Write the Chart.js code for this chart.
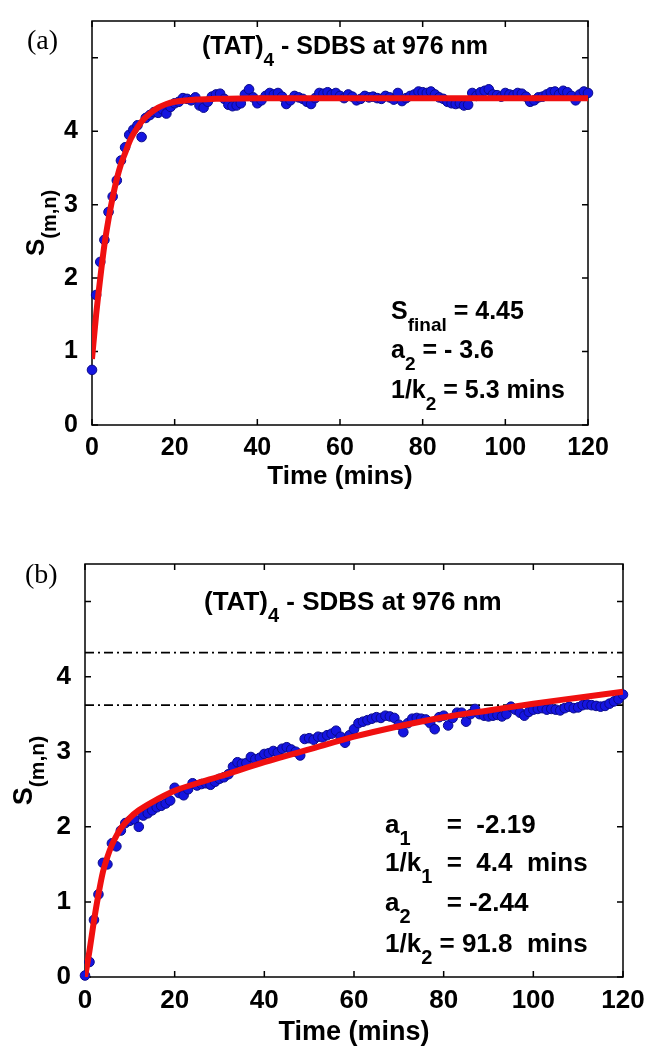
<!DOCTYPE html>
<html>
<head>
<meta charset="utf-8">
<script src="https://cdn.jsdelivr.net/npm/chart.js@4.4.0/dist/chart.umd.min.js"></script>
<style>
  body { margin: 0; background: #fff; width: 649px; height: 1046px; position: relative; overflow: hidden; }
  canvas { position: absolute; left: 0; }
  #chartA { top: 0; }
  #chartB { top: 520px; }
</style>
</head>
<body>
<canvas id="chartA" width="649" height="500"></canvas>
<canvas id="chartB" width="649" height="540"></canvas>
<script>
// sample times (minutes), same grid for both panels
const timeMins = [
  0, 1, 2, 3, 4, 5, 6, 7, 8, 9, 10, 11, 12, 13, 14, 15, 16, 17, 18, 19,
  20, 21, 22, 23, 24, 25, 26, 27, 28, 29, 30, 31, 32, 33, 34, 35, 36, 37, 38, 39,
  40, 41, 42, 43, 44, 45, 46, 47, 48, 49, 50, 51, 52, 53, 54, 55, 56, 57, 58, 59,
  60, 61, 62, 63, 64, 65, 66, 67, 68, 69, 70, 71, 72, 73, 74, 75, 76, 77, 78, 79,
  80, 81, 82, 83, 84, 85, 86, 87, 88, 89, 90, 91, 92, 93, 94, 95, 96, 97, 98, 99,
  100, 101, 102, 103, 104, 105, 106, 107, 108, 109, 110, 111, 112, 113, 114, 115, 116, 117, 118, 119, 120
];

// panel (a) measured S(m,n)
const signalA = [
  0.75, 1.77, 2.22, 2.52, 2.90, 3.11, 3.33, 3.60, 3.78, 3.95, 4.02, 4.08, 3.92, 4.18, 4.22, 4.26, 4.25, 4.30, 4.24, 4.33,
  4.38, 4.40, 4.45, 4.44, 4.42, 4.46, 4.35, 4.32, 4.40, 4.47, 4.50, 4.51, 4.44, 4.36, 4.34, 4.35, 4.38, 4.50, 4.57, 4.46,
  4.38, 4.42, 4.48, 4.52, 4.50, 4.52, 4.47, 4.37, 4.42, 4.48, 4.46, 4.44, 4.40, 4.37, 4.45, 4.52, 4.51, 4.53, 4.50, 4.52,
  4.48, 4.45, 4.50, 4.47, 4.42, 4.44, 4.48, 4.46, 4.47, 4.45, 4.44, 4.48, 4.46, 4.43, 4.52, 4.41, 4.45, 4.48, 4.50, 4.54,
  4.53, 4.52, 4.54, 4.50, 4.46, 4.44, 4.40, 4.38, 4.37, 4.38, 4.35, 4.36, 4.52, 4.48, 4.53, 4.55, 4.57, 4.50, 4.49, 4.47,
  4.52, 4.50, 4.49, 4.52, 4.51, 4.47, 4.40, 4.42, 4.46, 4.47, 4.50, 4.53, 4.54, 4.50, 4.55, 4.53, 4.48, 4.42, 4.50, 4.54, 4.52
];
// panel (a) fitted curve
const fitTimesA = [0, 1, 2, 3, 4, 5, 6, 7, 8, 9, 10, 12, 14, 16, 18, 20, 25, 30, 40, 60, 80, 100, 120];
const fitA = [0.90, 1.50, 2.00, 2.45, 2.80, 3.10, 3.35, 3.55, 3.70, 3.85, 3.96, 4.13, 4.24, 4.32, 4.37, 4.40, 4.43, 4.44, 4.45, 4.45, 4.45, 4.45, 4.45];

// panel (b) measured S(m,n)
const signalB = [
  0.02, 0.20, 0.76, 1.10, 1.52, 1.50, 1.78, 1.74, 1.95, 2.05, 2.08, 2.10, 2.00, 2.15, 2.18, 2.22, 2.26, 2.28, 2.31, 2.35,
  2.52, 2.45, 2.42, 2.50, 2.58, 2.55, 2.57, 2.58, 2.56, 2.60, 2.64, 2.66, 2.70, 2.80, 2.86, 2.84, 2.85, 2.93, 2.90, 2.92,
  2.97, 2.98, 3.01, 2.99, 3.04, 3.06, 3.03, 3.00, 2.95, 3.17, 3.18, 3.16, 3.20, 3.19, 3.22, 3.24, 3.28, 3.20, 3.12, 3.22,
  3.30, 3.38, 3.40, 3.42, 3.44, 3.46, 3.45, 3.48, 3.47, 3.45, 3.36, 3.26, 3.38, 3.44, 3.45, 3.44, 3.43, 3.38, 3.30, 3.46,
  3.48, 3.35, 3.45, 3.52, 3.52, 3.40, 3.50, 3.57, 3.50, 3.48, 3.47, 3.48, 3.49, 3.47, 3.50, 3.60, 3.56, 3.52, 3.48, 3.53,
  3.56, 3.57, 3.58, 3.56, 3.57, 3.56, 3.55, 3.58, 3.60, 3.58, 3.59, 3.62, 3.63, 3.62, 3.61, 3.60, 3.61, 3.64, 3.67, 3.70, 3.76
];
// panel (b) fitted curve
const fitTimesB = [0, 1, 2, 3, 4, 5, 6, 7, 8, 10, 12, 15, 20, 25, 30, 40, 50, 60, 70, 80, 90, 100, 110, 120];
const fitB = [0.00, 0.35, 0.75, 1.10, 1.40, 1.60, 1.76, 1.88, 1.98, 2.12, 2.22, 2.33, 2.48, 2.58, 2.67, 2.86, 3.03, 3.20, 3.34, 3.46, 3.55, 3.64, 3.72, 3.80];
// dash-dot reference levels in panel (b)
const refLevelsB = [4.32, 3.62];

const xTicks = [0, 20, 40, 60, 80, 100, 120];
const yTickLabels = ["0", "1", "2", "3", "4", ""];

Chart.defaults.font.family = '"Liberation Sans", Arial, sans-serif';
Chart.defaults.color = "#000";

function drawRich(ctx, x, y, parts, size) {
  let cx = x;
  parts.forEach((p) => {
    const s = p.sub ? Math.round(size * 0.76) : size;
    ctx.font = "bold " + s + 'px "Liberation Sans", Arial, sans-serif';
    ctx.fillText(p.t, cx, p.sub ? y + size * 0.46 : y);
    cx += ctx.measureText(p.t).width;
  });
  return cx - x;
}

function richWidth(ctx, parts, size) {
  let w = 0;
  parts.forEach((p) => {
    const s = p.sub ? Math.round(size * 0.76) : size;
    ctx.font = "bold " + s + 'px "Liberation Sans", Arial, sans-serif';
    w += ctx.measureText(p.t).width;
  });
  return w;
}

// MATLAB style box, inward ticks and the text on the plot
const matlabFrame = {
  id: "matlabFrame",
  beforeDatasetsDraw(chart) {
    const { ctx, chartArea: a, scales: { x, y } } = chart;
    ctx.save();
    ctx.strokeStyle = "#000";
    ctx.lineWidth = 1.5;
    ctx.strokeRect(a.left, a.top, a.width, a.height);
    ctx.beginPath();
    x.ticks.forEach((t) => {
      const px = x.getPixelForValue(t.value);
      ctx.moveTo(px, a.bottom); ctx.lineTo(px, a.bottom - 6);
      ctx.moveTo(px, a.top); ctx.lineTo(px, a.top + 6);
    });
    y.ticks.forEach((t) => {
      const py = y.getPixelForValue(t.value);
      ctx.moveTo(a.left, py); ctx.lineTo(a.left + 6, py);
      ctx.moveTo(a.right, py); ctx.lineTo(a.right - 6, py);
    });
    ctx.stroke();
    ctx.restore();
  },
  afterDraw(chart, args, opts) {
    const { ctx, chartArea: a } = chart;
    ctx.save();
    ctx.fillStyle = "#000";
    ctx.textBaseline = "alphabetic";
    ctx.textAlign = "left";
    // panel letter
    ctx.font = opts.letterSize + 'px "Liberation Serif", "Times New Roman", serif';
    ctx.fillText(opts.letter, opts.letterX, opts.letterY);
    // title
    drawRich(ctx, opts.titleX, opts.titleY, opts.title, opts.size);
    // fit parameters
    opts.notes.forEach((line, i) => {
      drawRich(ctx, opts.notesX, opts.notesY[i], line, opts.size);
    });
    // y axis title
    const ylab = [{ t: "S" }, { t: "(m,n)", sub: true }];
    const w = richWidth(ctx, ylab, opts.size + 1);
    ctx.translate(opts.yTitleX, (a.top + a.bottom) / 2);
    ctx.rotate(-Math.PI / 2);
    drawRich(ctx, -w / 2, 0, ylab, opts.size + 1);
    ctx.restore();
  },
};

function makeChart(id, signal, fitTimes, fit, refLevels, box, frame) {
  const datasets = [
    {
      type: "line",
      data: fitTimes.map((t, i) => ({ x: t, y: fit[i] })),
      borderColor: "#f01010",
      borderWidth: 6,
      pointRadius: 0,
      cubicInterpolationMode: "monotone",
    },
    {
      type: "line",
      data: timeMins.map((t, i) => ({ x: t, y: signal[i] })),
      showLine: false,
      pointRadius: 4.8,
      pointBackgroundColor: "#1515e0",
      pointBorderColor: "#0a0a8a",
      pointBorderWidth: 1,
      clip: 10,
    },
  ];
  refLevels.forEach((v) => {
    datasets.push({
      type: "line",
      data: [{ x: 0, y: v }, { x: 120, y: v }],
      borderColor: "#000",
      borderWidth: 1.6,
      borderDash: [9, 4, 2, 4],
      pointRadius: 0,
    });
  });

  return new Chart(document.getElementById(id), {
    type: "line",
    data: { datasets },
    plugins: [matlabFrame],
    options: {
      responsive: false,
      animation: false,
      layout: { padding: { left: 0, right: box.right, top: box.top, bottom: 0 } },
      plugins: {
        legend: { display: false },
        tooltip: { enabled: false },
        matlabFrame: frame,
      },
      scales: {
        x: {
          type: "linear",
          min: 0,
          max: 120,
          afterFit: (s) => { s.height = box.xHeight; },
          afterBuildTicks: (s) => { s.ticks = xTicks.map((v) => ({ value: v })); },
          grid: { display: false },
          border: { display: false },
          ticks: { padding: box.xPad, font: { size: frame.size, weight: "bold" }, maxRotation: 0 },
          title: {
            display: true,
            text: "Time (mins)",
            font: { size: frame.size + 1, weight: "bold" },
            padding: { top: 0, bottom: box.titlePad },
          },
        },
        y: {
          min: 0,
          max: 5.5,
          afterFit: (s) => { s.width = box.left; },
          grid: { display: false },
          border: { display: false },
          ticks: {
            stepSize: 1,
            includeBounds: false,
            padding: 6,
            font: { size: frame.size, weight: "bold" },
            callback: (v) => yTickLabels[v],
          },
        },
      },
    },
  });
}

makeChart("chartA", signalA, fitTimesA, fitA, [],
  { left: 92, right: 61, top: 15, xHeight: 75, xPad: 0, titlePad: 8 },
  {
    size: 25,
    letter: "(a)", letterX: 27, letterY: 49, letterSize: 28,
    title: [{ t: "(TAT)" }, { t: "4", sub: true }, { t: " - SDBS at 976 nm" }],
    titleX: 202, titleY: 54,
    notesX: 391, notesY: [319, 358, 398],
    notes: [
      [{ t: "S" }, { t: "final", sub: true }, { t: " = 4.45" }],
      [{ t: "a" }, { t: "2", sub: true }, { t: " = - 3.6" }],
      [{ t: "1/k" }, { t: "2", sub: true }, { t: " = 5.3 mins" }],
    ],
    yTitleX: 44,
  });

makeChart("chartB", signalB, fitTimesB, fitB, refLevelsB,
  { left: 85, right: 26, top: 44, xHeight: 83, xPad: 0, titlePad: 11 },
  {
    size: 26,
    letter: "(b)", letterX: 25, letterY: 63, letterSize: 28,
    title: [{ t: "(TAT)" }, { t: "4", sub: true }, { t: " - SDBS at 976 nm" }],
    titleX: 204, titleY: 90,
    notesX: 385, notesY: [313, 351, 391, 432],
    notes: [
      [{ t: "a" }, { t: "1", sub: true }, { t: "     =  -2.19" }],
      [{ t: "1/k" }, { t: "1", sub: true }, { t: "  =  4.4  mins" }],
      [{ t: "a" }, { t: "2", sub: true }, { t: "     = -2.44" }],
      [{ t: "1/k" }, { t: "2", sub: true }, { t: " = 91.8  mins" }],
    ],
    yTitleX: 32,
  });
</script>
</body>
</html>
